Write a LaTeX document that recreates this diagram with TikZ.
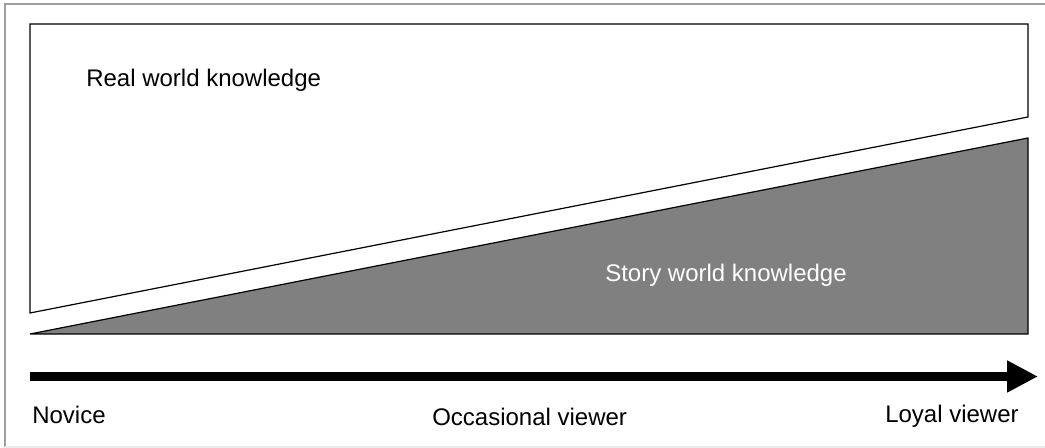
\documentclass[tikz,border=0pt]{standalone}
\usepackage{fontspec}
\setmainfont{Liberation Sans}
\usetikzlibrary{arrows.meta}

\tikzset{
  lbl/.style={anchor=base west, inner sep=0pt, font=\fontsize{18}{22}\selectfont},
  zone/.style={draw=black, line width=0.9pt},
}

\begin{document}
\begin{tikzpicture}[x=0.75pt, y=-0.75pt]
\useasboundingbox (0,0) rectangle (1045,448);

% ── Marco exterior ───────────────────────────────────────────
\draw[gray!75, line width=1.2pt] (5,447) -- (5,4) -- (1046,4);
\draw[gray!15, line width=1pt]   (5,447) -- (1046,447);

% ── Conocimiento del mundo real ──────────────────────────────
\draw[zone, fill=white] (30,24) -- (1028,24) -- (1028,117) -- (30,313) -- cycle;
\node[lbl] (real) at (86,87) {Real world knowledge};

% ── Conocimiento del mundo de la historia ────────────────────
\draw[zone, fill=gray] (30,334) -- (1028,138) -- (1028,334) -- cycle;
\node[lbl, text=white] (story) at (605,282) {Story world knowledge};

% ── Flecha: del novato al espectador fiel ────────────────────
\coordinate (start) at (30,376.5);
\coordinate (tip)   at (1038,376.5);
\draw[line width=6.75pt, -{Triangle[length=23.25pt, width=22.5pt]}] (start) -- (tip);

% ── Etiquetas del eje ────────────────────────────────────────
\node[lbl] (novice) at (32,424)  {Novice};
\node[lbl] (occ)    at (432,426) {Occasional viewer};
\node[lbl] (loyal)  at (885,422) {Loyal viewer};

\end{tikzpicture}
\end{document}
